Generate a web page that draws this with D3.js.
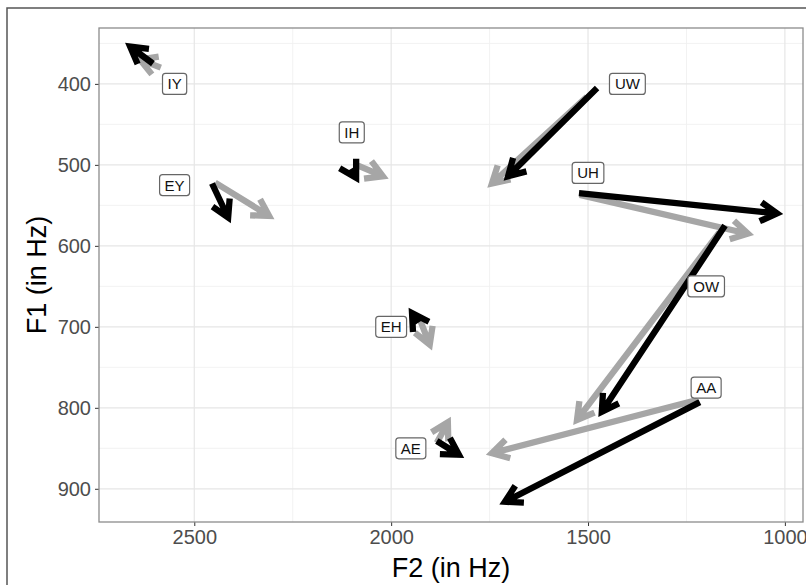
<!DOCTYPE html>
<html>
<head>
<meta charset="utf-8">
<script src="https://cdn.jsdelivr.net/npm/d3@7"></script>
<style>
  body { margin: 0; background: #fff; }
  svg { font-family: "Liberation Sans", Arial, sans-serif; display: block; }
</style>
</head>
<body>
<div id="chart"></div>
<script>
// vowels and label positions (F2, F1 in Hz)
const vowels  = ["IY", "EY", "IH", "EH", "AE", "AA", "OW", "UH", "UW"];
const labelF2 = [2550, 2550, 2100, 2000, 1950, 1200, 1200, 1500, 1400];
const labelF1 = [400, 525, 460, 700, 850, 775, 650, 510, 400];

// gray trajectories (onset -> offset)
const grayF2start = [2585, 2447, 2084, 1927, 1884, 1221, 1166, 1521, 1503];
const grayF1start = [380, 522, 501, 691, 843, 790, 583, 537, 416];
const grayF2end   = [2638, 2310, 2021, 1902, 1856, 1744, 1528, 1094, 1744];
const grayF1end   = [370, 563, 514, 722, 818, 856, 815, 585, 523];

// black trajectories (onset -> offset)
const blackF2start = [2605, 2455, 2102, 1931, 1884, 1216, 1152, 1523, 1477];
const blackF1start = [375, 523, 505, 695, 841, 793, 575, 535, 405];
const blackF2end   = [2663, 2414, 2089, 1947, 1828, 1711, 1465, 1020, 1703];
const blackF1end   = [354, 565, 516, 683, 858, 916, 805, 560, 514];

const xTicks = [2500, 2000, 1500, 1000];
const yTicks = [400, 500, 600, 700, 800, 900];
const xMinor = [2750, 2250, 1750, 1250];
const yMinor = [350, 450, 550, 650, 750, 850];

const W = 806, H = 585;
const panel = {left: 99, right: 803, top: 28, bottom: 522};

const svg = d3.select("#chart").append("svg")
    .attr("width", W)
    .attr("height", H);

svg.append("rect").attr("width", W).attr("height", H).attr("fill", "#fff");

// outer frame (cut by the picture on the right and bottom)
svg.append("rect")
    .attr("x", 7).attr("y", 8)
    .attr("width", 900).attr("height", 700)
    .attr("fill", "none")
    .attr("stroke", "#555")
    .attr("stroke-width", 1.5);

// reversed axes, like a vowel chart
const x = d3.scaleLinear().domain([2742, 954]).range([panel.left, panel.right]);
const y = d3.scaleLinear().domain([331, 941]).range([panel.top, panel.bottom]);

const grid = svg.append("g");
grid.selectAll(".vminor").data(xMinor.filter(v => x(v) > panel.left && x(v) < panel.right))
    .enter().append("line")
    .attr("x1", d => x(d)).attr("x2", d => x(d))
    .attr("y1", panel.top).attr("y2", panel.bottom)
    .attr("stroke", "#f0f0f0").attr("stroke-width", 0.9);
grid.selectAll(".hminor").data(yMinor)
    .enter().append("line")
    .attr("y1", d => y(d)).attr("y2", d => y(d))
    .attr("x1", panel.left).attr("x2", panel.right)
    .attr("stroke", "#f0f0f0").attr("stroke-width", 0.9);
grid.selectAll(".vmajor").data(xTicks)
    .enter().append("line")
    .attr("x1", d => x(d)).attr("x2", d => x(d))
    .attr("y1", panel.top).attr("y2", panel.bottom)
    .attr("stroke", "#e6e6e6").attr("stroke-width", 1.2);
grid.selectAll(".hmajor").data(yTicks)
    .enter().append("line")
    .attr("y1", d => y(d)).attr("y2", d => y(d))
    .attr("x1", panel.left).attr("x2", panel.right)
    .attr("stroke", "#e6e6e6").attr("stroke-width", 1.2);

// axes
const xAxis = svg.append("g")
    .attr("transform", `translate(0,${panel.bottom})`)
    .call(d3.axisBottom(x).tickValues(xTicks).tickSize(4).tickPadding(4).tickFormat(d3.format("d")));
const yAxis = svg.append("g")
    .attr("transform", `translate(${panel.left},0)`)
    .call(d3.axisLeft(y).tickValues(yTicks).tickSize(4).tickPadding(4).tickFormat(d3.format("d")));
[xAxis, yAxis].forEach(a => {
    a.select(".domain").remove();
    a.selectAll(".tick line").attr("stroke", "#333").attr("stroke-width", 1);
    a.selectAll(".tick text")
        .attr("fill", "#4d4d4d")
        .style("font-size", "20px")
        .style("font-family", "Liberation Sans, Arial, sans-serif");
});

// panel border
svg.append("rect")
    .attr("x", panel.left).attr("y", panel.top)
    .attr("width", panel.right - panel.left)
    .attr("height", panel.bottom - panel.top)
    .attr("fill", "none")
    .attr("stroke", "#8c8c8c")
    .attr("stroke-width", 1.3);

// arrows
function arrowPath(x1, y1, x2, y2) {
    const ang = Math.atan2(y2 - y1, x2 - x1);
    const len = 19, spread = Math.PI / 6;
    const a1 = [x2 - len * Math.cos(ang - spread), y2 - len * Math.sin(ang - spread)];
    const a2 = [x2 - len * Math.cos(ang + spread), y2 - len * Math.sin(ang + spread)];
    return `M${x1},${y1}L${x2},${y2}M${a1[0]},${a1[1]}L${x2},${y2}L${a2[0]},${a2[1]}`;
}

function drawSet(f2s, f1s, f2e, f1e, color) {
    svg.append("g").selectAll("path")
        .data(vowels.map((v, i) => ({v, i})))
        .enter().append("path")
        .attr("d", d => arrowPath(x(f2s[d.i]), y(f1s[d.i]), x(f2e[d.i]), y(f1e[d.i])))
        .attr("fill", "none")
        .attr("stroke", color)
        .attr("stroke-width", 6.3)
        .attr("stroke-linejoin", "miter")
        .attr("stroke-linecap", "butt");
}
drawSet(grayF2start, grayF1start, grayF2end, grayF1end, "#a6a6a6");
drawSet(blackF2start, blackF1start, blackF2end, blackF1end, "#000");

// labels
const lab = svg.append("g").selectAll("g")
    .data(vowels.map((v, i) => ({v, i})))
    .enter().append("g")
    .attr("transform", d => `translate(${x(labelF2[d.i])},${y(labelF1[d.i])})`);
lab.append("rect").attr("class", "box");
lab.append("text")
    .attr("text-anchor", "middle")
    .attr("dy", "0.36em")
    .style("font-size", "15px")
    .attr("fill", "#111")
    .text(d => d.v);
lab.each(function () {
    const g = d3.select(this);
    const bb = g.select("text").node().getBBox();
    const w = bb.width + 10, h = 21;
    g.select("rect")
        .attr("x", -w / 2).attr("y", -h / 2)
        .attr("width", w).attr("height", h)
        .attr("rx", 3).attr("ry", 3)
        .attr("fill", "#fff")
        .attr("stroke", "#666")
        .attr("stroke-width", 1.2);
});

// axis titles
svg.append("text")
    .attr("x", (panel.left + panel.right) / 2)
    .attr("y", 577)
    .attr("text-anchor", "middle")
    .style("font-size", "27px")
    .attr("fill", "#000")
    .text("F2 (in Hz)");
svg.append("text")
    .attr("transform", `translate(46,${(panel.top + panel.bottom) / 2}) rotate(-90)`)
    .attr("text-anchor", "middle")
    .style("font-size", "27px")
    .attr("fill", "#000")
    .text("F1 (in Hz)");
</script>
</body>
</html>
